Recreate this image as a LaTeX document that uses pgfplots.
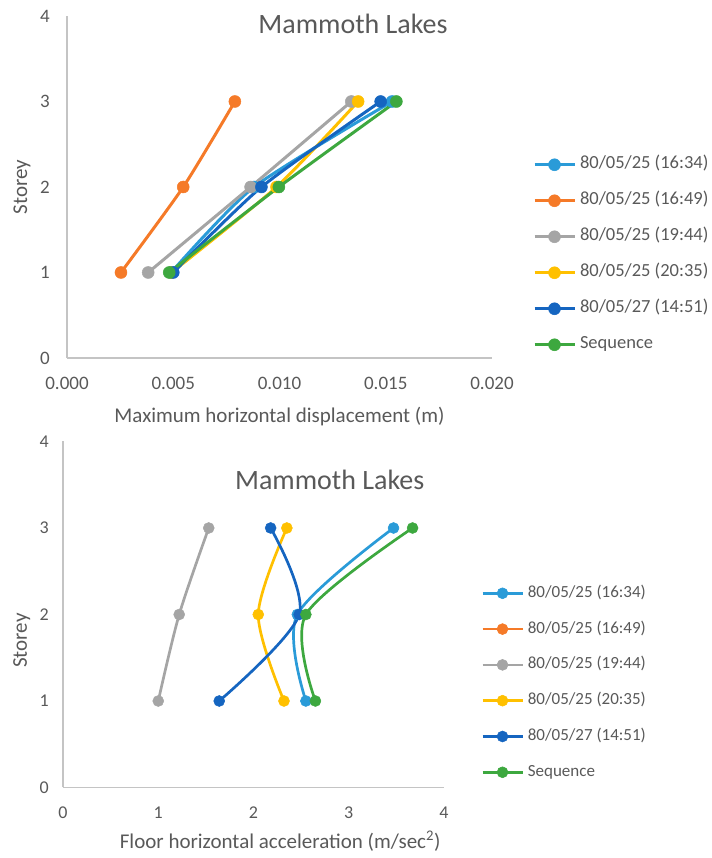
\documentclass[border=0pt]{standalone}
\usepackage{fontspec}
\setmainfont{Carlito}
\usepackage{pgfplots}
\pgfplotsset{compat=1.18}
\definecolor{cA}{HTML}{2A9BD8}
\definecolor{cB}{HTML}{F57A28}
\definecolor{cC}{HTML}{A5A5A5}
\definecolor{cD}{HTML}{FFC000}
\definecolor{cE}{HTML}{1565C0}
\definecolor{cF}{HTML}{3DA83F}
\definecolor{txt}{HTML}{595959}
\definecolor{axg}{HTML}{C4C4C4}
\newcommand{\LA}{\fontsize{18.5}{18.5}\selectfont}
\newcommand{\LB}{\fontsize{17}{17}\selectfont}
\pgfplotsset{
  base/.style={
    scale only axis, anchor=south west,
    axis x line=bottom, axis y line=left,
    axis line style={-, draw=axg, line width=1.6pt},
    major tick length=0pt, tick style={draw=none},
    ymin=0, ymax=4, ytick={0,1,2,3,4},
    /pgf/number format/assume math mode=true,
    clip=false,
    legend cell align=left,
    title style={anchor=base, font=\fontsize{28}{28}\selectfont, text=txt},
    xlabel style={anchor=base, font=\fontsize{21}{21}\selectfont, text=txt},
    ylabel style={anchor=center, font=\fontsize{21}{21}\selectfont, text=txt},
    legend image code/.code={\draw[##1, mark repeat=2, mark phase=2] plot coordinates {(0pt,0pt) (20pt,0pt) (40pt,0pt)};},
  },
  sA/.style={color=cA, line width=#1, mark=*, mark options={solid, fill=cA, line width=0.5pt}},
  sB/.style={color=cB, line width=#1, mark=*, mark options={solid, fill=cB, line width=0.5pt}},
  sC/.style={color=cC, line width=#1, mark=*, mark options={solid, fill=cC, line width=0.5pt}},
  sD/.style={color=cD, line width=#1, mark=*, mark options={solid, fill=cD, line width=0.5pt}},
  sE/.style={color=cE, line width=#1, mark=*, mark options={solid, fill=cE, line width=0.5pt}},
  sF/.style={color=cF, line width=#1, mark=*, mark options={solid, fill=cF, line width=0.5pt}},
}
\begin{document}
\begin{tikzpicture}[x=1pt,y=1pt]
\path[use as bounding box] (0,0) rectangle (711,858);
% ---------------- top chart ----------------
\begin{axis}[base,
  at={(67pt,500pt)}, width=425pt, height=342pt,
  xmin=0, xmax=0.02, xtick={0,0.005,0.01,0.015,0.02},
  scaled x ticks=false,
  xticklabels={0.000,0.005,0.010,0.015,0.020},
  xticklabel style={anchor=base, yshift=-32pt, inner sep=0pt, font=\fontsize{19}{19}\selectfont, text=txt},
  yticklabel style={anchor=east, xshift=-17pt, inner sep=0pt, font=\fontsize{19}{19}\selectfont, text=txt},
  title={Mammoth Lakes}, title style={at={(axis description cs:0.673,0.931)}},
  xlabel={Maximum horizontal displacement (m)}, xlabel style={at={(axis description cs:0.5,-0.19)}},
  ylabel={Storey}, ylabel style={at={(axis description cs:-0.106,0.5)}},
  mark size=6pt,
  legend style={at={(axis description cs:1.096,0.589)}, anchor=north west, draw=none, fill=none,
    inner sep=0pt, row sep=20pt, column sep=4pt,
    text=txt, nodes={inner sep=0pt, text height=12pt, text depth=4pt}},
]
\addplot[sA=3pt, smooth, tension=0.4] coordinates {(0.0049,1) (0.0088,2) (0.0153,3)};
\addlegendentry{\LA 80/05/25 (16:34)}
\addplot[sB=3pt, smooth, tension=0.4] coordinates {(0.00254,1) (0.00547,2) (0.0079,3)};
\addlegendentry{\LA 80/05/25 (16:49)}
\addplot[sC=3pt, smooth, tension=0.4] coordinates {(0.00382,1) (0.00864,2) (0.01338,3)};
\addlegendentry{\LA 80/05/25 (19:44)}
\addplot[sD=3pt, smooth, tension=0.4] coordinates {(0.00492,1) (0.00986,2) (0.0137,3)};
\addlegendentry{\LA 80/05/25 (20:35)}
\addplot[sE=3pt, smooth, tension=0.4] coordinates {(0.0050,1) (0.00915,2) (0.01476,3)};
\addlegendentry{\LA 80/05/27 (14:51)}
\addplot[sF=3pt, smooth, tension=0.4] coordinates {(0.00481,1) (0.00997,2) (0.0155,3)};
\addlegendentry{\LA Sequence}
\end{axis}
% ---------------- bottom chart ----------------
\begin{axis}[base,
  at={(63pt,70.5pt)}, width=381pt, height=346pt,
  xmin=0, xmax=4, xtick={0,1,2,3,4},
  xticklabel style={anchor=base, yshift=-31pt, inner sep=0pt, font=\fontsize{18}{18}\selectfont, text=txt},
  yticklabel style={anchor=east, xshift=-14pt, inner sep=0pt, font=\fontsize{18}{18}\selectfont, text=txt},
  title={Mammoth Lakes}, title style={at={(axis description cs:0.70,0.844)}},
  xlabel={Floor horizontal acceleration (m/sec\textsuperscript{2})}, xlabel style={at={(axis description cs:0.57,-0.176)}},
  ylabel={Storey}, ylabel style={at={(axis description cs:-0.108,0.425)}},
  mark size=5.5pt,
  legend style={at={(axis description cs:1.097,0.585)}, anchor=north west, draw=none, fill=none,
    inner sep=0pt, row sep=19.8pt, column sep=4pt,
    text=txt, nodes={inner sep=0pt, text height=12pt, text depth=4pt}},
]
\addplot[sA=2.7pt, smooth] coordinates {(2.55,1) (2.46,2) (3.47,3)};
\addlegendentry{\LB 80/05/25 (16:34)}
\addlegendimage{sB=2.7pt}
\addlegendentry{\LB 80/05/25 (16:49)}
\addplot[sC=2.7pt, smooth] coordinates {(1.00,1) (1.22,2) (1.53,3)};
\addlegendentry{\LB 80/05/25 (19:44)}
\addplot[sD=2.7pt, smooth] coordinates {(2.32,1) (2.05,2) (2.35,3)};
\addlegendentry{\LB 80/05/25 (20:35)}
\addplot[sE=2.7pt, smooth] coordinates {(1.64,1) (2.48,2) (2.18,3)};
\addlegendentry{\LB 80/05/27 (14:51)}
\addplot[sF=2.7pt, smooth] coordinates {(2.65,1) (2.55,2) (3.67,3)};
\addlegendentry{\LB Sequence}
\end{axis}
\end{tikzpicture}
\end{document}
